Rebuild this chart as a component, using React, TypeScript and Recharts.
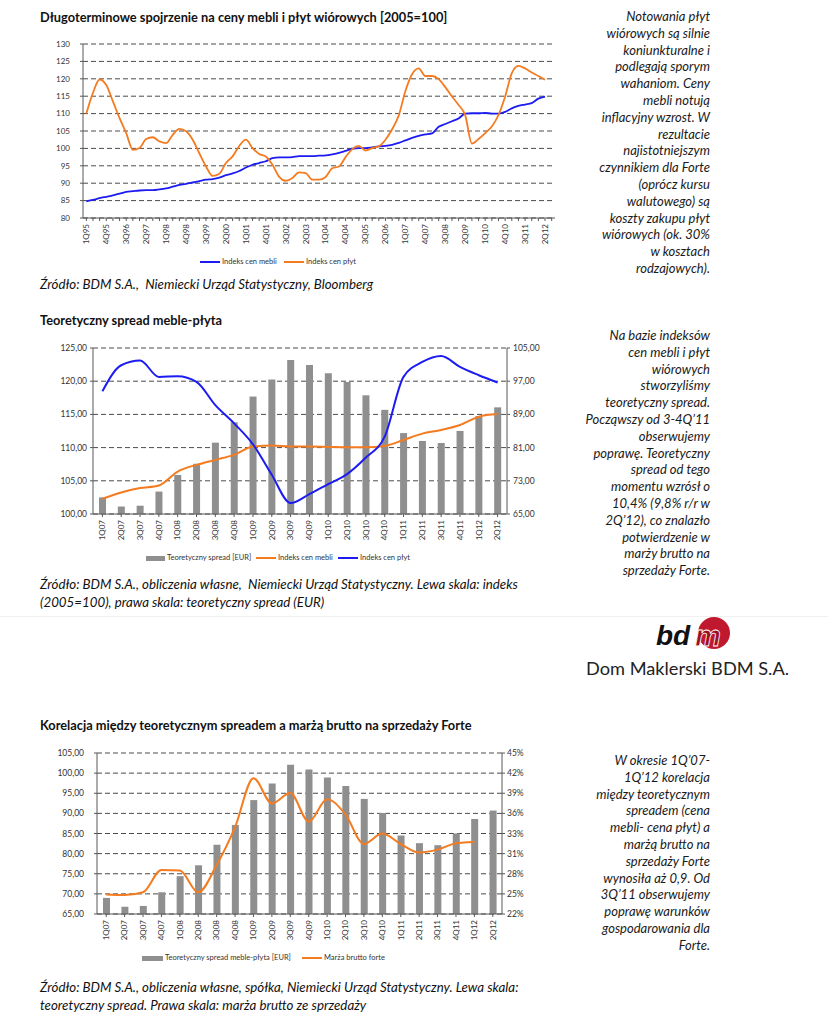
import React from "react";
import { ComposedChart, Line, Bar, XAxis, YAxis, CartesianGrid } from "recharts";

const FONT = "Lato, 'Open Sans', sans-serif";
const ORANGE = "#f47b20";
const BLUE = "#1c1cf2";
const BAR_GREY = "#8f8f8f";
const AXIS = "#595959";
const GRID = "#4a4a4a";
const TICK = "#333";

// --- chart 1: long-term indices (2005=100), quarterly 1Q95-2Q12 (3Q12 empty slot)
const LONG_QUARTERS = [
  "1Q95", "2Q95", "3Q95", "4Q95", "1Q96", "2Q96", "3Q96", "4Q96",
  "1Q97", "2Q97", "3Q97", "4Q97", "1Q98", "2Q98", "3Q98", "4Q98",
  "1Q99", "2Q99", "3Q99", "4Q99", "1Q00", "2Q00", "3Q00", "4Q00",
  "1Q01", "2Q01", "3Q01", "4Q01", "1Q02", "2Q02", "3Q02", "4Q02",
  "1Q03", "2Q03", "3Q03", "4Q03", "1Q04", "2Q04", "3Q04", "4Q04",
  "1Q05", "2Q05", "3Q05", "4Q05", "1Q06", "2Q06", "3Q06", "4Q06",
  "1Q07", "2Q07", "3Q07", "4Q07", "1Q08", "2Q08", "3Q08", "4Q08",
  "1Q09", "2Q09", "3Q09", "4Q09", "1Q10", "2Q10", "3Q10", "4Q10",
  "1Q11", "2Q11", "3Q11", "4Q11", "1Q12", "2Q12", "3Q12",
];

const MEBLE_LONG = [
  84.8, 85.2, 85.7, 86.1, 86.5, 87.0, 87.5, 87.7, 87.9, 88.0,
  88.0, 88.2, 88.5, 89.0, 89.5, 89.8, 90.2, 90.6, 91.0, 91.2,
  91.6, 92.3, 92.8, 93.5, 94.5, 95.3, 95.8, 96.3, 97.2, 97.4,
  97.4, 97.5, 97.8, 97.8, 97.8, 97.9, 98.0, 98.3, 98.7, 99.3,
  99.9, 100.1, 100.1, 100.3, 100.6, 100.7, 101.0, 101.6, 102.3, 103.0,
  103.6, 104.0, 104.3, 106.2, 107.0, 107.8, 108.6, 110.0, 110.1, 110.1,
  110.2, 110.0, 110.0, 110.5, 111.5, 112.2, 112.6, 113.0, 114.3, 114.9,
  null,
];

const PLYT_LONG = [
  110.0, 116.0, 119.8, 118.2, 113.5, 108.7, 104.4, 99.6, 100.1, 102.7,
  103.2, 102.0, 101.5, 103.9, 105.6, 104.9, 102.5, 98.6, 94.8, 92.1,
  92.7, 95.8, 97.7, 100.7, 102.5, 100.1, 98.4, 97.7, 95.3, 91.9,
  90.7, 91.5, 93.1, 92.9, 91.0, 91.0, 91.8, 94.3, 94.8, 97.5,
  99.8, 100.7, 99.4, 100.1, 100.6, 102.5, 105.5, 109.5, 116.5, 121.3,
  123.0, 120.8, 120.8, 119.9, 117.6, 114.9, 112.5, 109.5, 101.4, 102.7,
  104.4, 106.3, 109.6, 114.9, 121.6, 123.7, 123.0, 121.8, 120.8, 119.7,
  null,
];

const LONG_TICKS = [80, 85, 90, 95, 100, 105, 110, 115, 120, 125, 130];

// --- charts 2 & 3: 1Q07-2Q12
const SHORT_QUARTERS = [
  "1Q07", "2Q07", "3Q07", "4Q07", "1Q08", "2Q08", "3Q08", "4Q08",
  "1Q09", "2Q09", "3Q09", "4Q09", "1Q10", "2Q10", "3Q10", "4Q10",
  "1Q11", "2Q11", "3Q11", "4Q11", "1Q12", "2Q12",
];

const SPREAD = [
  69.0, 66.8, 67.0, 70.4, 74.4, 77.1, 82.2, 87.1, 93.3, 97.4, 102.1,
  100.9, 98.9, 96.8, 93.6, 90.1, 84.5, 82.6, 82.1, 85.0, 88.6, 90.7,
];

const MEBLE_INDEX = [
  102.3, 103.25, 103.9, 104.3, 106.4, 107.4, 108.15, 108.9, 110.15, 110.3, 110.15,
  110.15, 110.1, 110.05, 110.05, 110.25, 111.15, 112.1, 112.65, 113.4, 114.65, 115.05,
];

const PLYT_INDEX = [
  118.5, 122.4, 123.1, 120.65, 120.75, 119.9, 116.4, 113.65, 110.5, 105.9, 101.65,
  103.0, 104.5, 106.0, 108.5, 111.65, 120.65, 122.9, 123.8, 122.15, 120.9, 119.8,
];

const MARZA = [
  24.8, 24.7, 25.1, 28.3, 28.2, 25.1, 29.0, 34.4, 41.4, 37.8, 39.3,
  35.2, 38.4, 36.2, 32.0, 33.5, 32.0, 30.8, 31.2, 32.1, 32.3, null,
];

const INDEX_TICKS = [100, 105, 110, 115, 120, 125];
const SPREAD_TICKS_R = [65, 73, 81, 89, 97, 105];
const SPREAD_TICKS_L = [65, 70, 75, 80, 85, 90, 95, 100, 105];
const MARZA_TICK_LABELS = ["22%", "25%", "28%", "31%", "33%", "36%", "39%", "42%", "45%"];
const MARZA_DOMAIN: [number, number] = [22, 45];

const longData = LONG_QUARTERS.map((q, i) => ({ q, meble: MEBLE_LONG[i], plyt: PLYT_LONG[i] }));
const spreadData = SHORT_QUARTERS.map((q, i) => ({
  q,
  spread: SPREAD[i],
  meble: MEBLE_INDEX[i],
  plyt: PLYT_INDEX[i],
  marza: MARZA[i],
}));

const marzaTicks = MARZA_TICK_LABELS.map(
  (_, i) => MARZA_DOMAIN[0] + ((MARZA_DOMAIN[1] - MARZA_DOMAIN[0]) * i) / (MARZA_TICK_LABELS.length - 1)
);

const comma = (v: number) => v.toFixed(2).replace(".", ",");

const RotTick = (props: any) => {
  const { x, y, payload, every = 1, fontSize = 8 } = props;
  const idx = payload?.index ?? props.index ?? 0;
  if (idx % every !== 0 || payload.value === "3Q12") return null;
  return (
    <g transform={`translate(${x},${y})`}>
      <text
        transform="rotate(-90)"
        x={-1}
        y={fontSize * 0.35}
        textAnchor="end"
        fontSize={fontSize}
        fontFamily={FONT}
        fill={TICK}
      >
        {payload.value}
      </text>
    </g>
  );
};

const Abs = ({ x, y, children, style }: any) => (
  <div style={{ position: "absolute", left: x, top: y, whiteSpace: "nowrap", ...style }}>{children}</div>
);

const LegendLine = ({ x, y, w, color, label }: any) => (
  <Abs x={x} y={y - 6} style={{ fontSize: 7.5, color: TICK, lineHeight: "12px" }}>
    <span style={{ display: "inline-block", width: w, height: 2, background: color, verticalAlign: "middle", marginRight: 2 }} />
    {label}
  </Abs>
);

const LegendBox = ({ x, y, w, label }: any) => (
  <Abs x={x} y={y - 6} style={{ fontSize: 7.5, color: TICK, lineHeight: "12px" }}>
    <span style={{ display: "inline-block", width: w, height: 5, background: BAR_GREY, verticalAlign: "middle", marginRight: 2 }} />
    {label}
  </Abs>
);

const SideText = ({ top, lines }: { top: number; lines: string[] }) => (
  <div
    style={{
      position: "absolute",
      left: 560,
      width: 150,
      top,
      textAlign: "right",
      fontStyle: "italic",
      fontSize: 13,
      lineHeight: "16.8px",
      color: "#1a1a1a",
    }}
  >
    {lines.map((l, i) => (
      <div key={i} style={{ whiteSpace: "nowrap" }}>{l}</div>
    ))}
  </div>
);

const SIDE_1 = [
  "Notowania płyt", "wiórowych są silnie", "koniunkturalne i", "podlegają sporym",
  "wahaniom. Ceny", "mebli notują", "inflacyjny wzrost. W", "rezultacie",
  "najistotniejszym", "czynnikiem dla Forte", "(oprócz kursu", "walutowego) są",
  "koszty zakupu płyt", "wiórowych (ok. 30%", "w kosztach", "rodzajowych).",
];
const SIDE_2 = [
  "Na bazie indeksów", "cen mebli i płyt", "wiórowych", "stworzyliśmy",
  "teoretyczny spread.", "Począwszy od 3-4Q’11", "obserwujemy", "poprawę. Teoretyczny",
  "spread od tego", "momentu wzrósł o", "10,4% (9,8% r/r w", "2Q’12), co znalazło",
  "potwierdzenie w", "marży brutto na", "sprzedaży Forte.",
];
const SIDE_3 = [
  "W okresie 1Q’07-", "1Q’12 korelacja", "między teoretycznym", "spreadem (cena",
  "mebli- cena płyt) a", "marżą brutto na", "sprzedaży Forte", "wynosiła aż 0,9. Od",
  "3Q’11 obserwujemy", "poprawę warunków", "gospodarowania dla", "Forte.",
];

const titleStyle = { fontWeight: 700, fontSize: 12.8, color: "#111", lineHeight: "16px" };
const captionStyle = { fontStyle: "italic", fontSize: 13.3, color: "#111", lineHeight: "17.5px" };

export default function App() {
  return (
    <div
      style={{
        position: "absolute",
        left: 0,
        top: 0,
        width: 828,
        height: 1024,
        background: "#fff",
        fontFamily: FONT,
        overflow: "hidden",
      }}
    >
      {/* chart 1 */}
      <Abs x={40} y={9} style={titleStyle}>Długoterminowe spojrzenie na ceny mebli i płyt wiórowych [2005=100]</Abs>
      <div style={{ position: "absolute", left: 40, top: 38 }}>
        <ComposedChart width={525} height={220} data={longData} margin={{ top: 6, right: 10, bottom: 0, left: 0 }}>
          <CartesianGrid vertical={false} syncWithTicks stroke={GRID} strokeDasharray="5 3" />
          <XAxis
            dataKey="q"
            scale="band"
            interval={0}
            height={40}
            axisLine={{ stroke: AXIS }}
            tickLine={{ stroke: AXIS }}
            tickSize={3}
            tick={<RotTick every={3} fontSize={8} />}
          />
          <YAxis
            domain={[80, 130]}
            ticks={LONG_TICKS}
            interval={0}
            width={43}
            axisLine={{ stroke: AXIS }}
            tickLine={{ stroke: AXIS }}
            tickSize={3}
            tickMargin={10}
            tick={{ fontSize: 8, fill: TICK, fontFamily: FONT }}
          />
          <Line dataKey="meble" type="monotone" stroke={BLUE} strokeWidth={1.8} dot={false} isAnimationActive={false} />
          <Line dataKey="plyt" type="monotone" stroke={ORANGE} strokeWidth={1.8} dot={false} isAnimationActive={false} />
        </ComposedChart>
      </div>
      <LegendLine x={200} y={262} w={20} color={BLUE} label="Indeks cen mebli" />
      <LegendLine x={284} y={262} w={20} color={ORANGE} label="Indeks cen płyt" />
      <Abs x={40} y={276} style={captionStyle}>Źródło: BDM S.A.,&nbsp; Niemiecki Urząd Statystyczny, Bloomberg</Abs>
      <SideText top={8} lines={SIDE_1} />

      {/* chart 2 */}
      <Abs x={40} y={312} style={titleStyle}>Teoretyczny spread meble-płyta</Abs>
      <div style={{ position: "absolute", left: 40, top: 340 }}>
        <ComposedChart width={527} height={209} data={spreadData} margin={{ top: 8, right: 0, bottom: 0, left: 0 }}>
          <CartesianGrid vertical={false} syncWithTicks yAxisId="left" stroke={GRID} strokeDasharray="5 3" />
          <XAxis
            dataKey="q"
            interval={0}
            height={35}
            axisLine={{ stroke: AXIS }}
            tickLine={{ stroke: AXIS }}
            tickSize={3}
            tick={<RotTick every={1} fontSize={8} />}
          />
          <YAxis
            yAxisId="left"
            domain={[100, 125]}
            ticks={INDEX_TICKS}
            interval={0}
            tickFormatter={comma}
            width={53}
            axisLine={{ stroke: AXIS }}
            tickLine={{ stroke: AXIS }}
            tickSize={3}
            tickMargin={3}
            tick={{ fontSize: 8.5, fill: TICK, fontFamily: FONT }}
          />
          <YAxis
            yAxisId="right"
            orientation="right"
            domain={[65, 105]}
            ticks={SPREAD_TICKS_R}
            interval={0}
            tickFormatter={comma}
            width={60}
            axisLine={{ stroke: AXIS }}
            tickLine={{ stroke: AXIS }}
            tickSize={3}
            tickMargin={3}
            tick={{ fontSize: 8.5, fill: TICK, fontFamily: FONT, textAnchor: "start" }}
          />
          <Bar yAxisId="right" dataKey="spread" fill={BAR_GREY} barSize={7} isAnimationActive={false} />
          <Line yAxisId="left" dataKey="meble" type="monotone" stroke={ORANGE} strokeWidth={2} dot={false} isAnimationActive={false} />
          <Line yAxisId="left" dataKey="plyt" type="monotone" stroke={BLUE} strokeWidth={2} dot={false} isAnimationActive={false} />
        </ComposedChart>
      </div>
      <LegendBox x={146} y={558} w={19} label="Teoretyczny spread [EUR]" />
      <LegendLine x={256} y={558} w={20} color={ORANGE} label="Indeks cen mebli" />
      <LegendLine x={338} y={558} w={20} color={BLUE} label="Indeks cen płyt" />
      <Abs x={40} y={576} style={captionStyle}>
        Źródło: BDM S.A., obliczenia własne,&nbsp; Niemiecki Urząd Statystyczny. Lewa skala: indeks
        <br />
        (2005=100), prawa skala: teoretyczny spread (EUR)
      </Abs>
      <SideText top={327} lines={SIDE_2} />

      {/* page break + logo */}
      <div style={{ position: "absolute", left: 0, top: 616, width: 828, height: 1, background: "#f0f0f0" }} />
      <svg style={{ position: "absolute", left: 650, top: 612 }} width={90} height={40}>
        <defs>
          <clipPath id="logoClip">
            <rect x={0} y={5} width={90} height={40} />
          </clipPath>
        </defs>
        <circle cx={64} cy={21} r={16} fill="#c0192f" clipPath="url(#logoClip)" />
        <text x={6} y={33} fontFamily="'Liberation Sans', Arial, sans-serif" fontWeight="bold" fontStyle="italic" fontSize={28} fill="#111">
          bd
        </text>
        <text x={45} y={34} fontFamily="'Liberation Sans', Arial, sans-serif" fontWeight="bold" fontStyle="italic" fontSize={29} fill="#9a0f25" stroke="#fff" strokeWidth={0.8}>
          m
        </text>
      </svg>
      <Abs x={586} y={656} style={{ fontSize: 18.2, color: "#222", lineHeight: "24px" }}>Dom Maklerski BDM S.A.</Abs>

      {/* chart 3 */}
      <Abs x={40} y={717} style={titleStyle}>Korelacja między teoretycznym spreadem a marżą brutto na sprzedaży Forte</Abs>
      <div style={{ position: "absolute", left: 40, top: 745 }}>
        <ComposedChart width={512} height={204} data={spreadData} margin={{ top: 8, right: 0, bottom: 0, left: 0 }}>
          <CartesianGrid vertical={false} syncWithTicks yAxisId="left" stroke={GRID} strokeDasharray="5 3" />
          <XAxis
            dataKey="q"
            interval={0}
            height={35}
            axisLine={{ stroke: AXIS }}
            tickLine={{ stroke: AXIS }}
            tickSize={3}
            tick={<RotTick every={1} fontSize={8} />}
          />
          <YAxis
            yAxisId="left"
            domain={[65, 105]}
            ticks={SPREAD_TICKS_L}
            interval={0}
            tickFormatter={comma}
            width={57}
            axisLine={{ stroke: AXIS }}
            tickLine={{ stroke: AXIS }}
            tickSize={3}
            tickMargin={10}
            tick={{ fontSize: 8.5, fill: TICK, fontFamily: FONT }}
          />
          <YAxis
            yAxisId="right"
            orientation="right"
            domain={MARZA_DOMAIN}
            ticks={marzaTicks}
            interval={0}
            tickFormatter={(_v: number, i: number) => MARZA_TICK_LABELS[i]}
            width={50}
            axisLine={{ stroke: AXIS }}
            tickLine={{ stroke: AXIS }}
            tickSize={3}
            tickMargin={2}
            tick={{ fontSize: 8.5, fill: TICK, fontFamily: FONT, textAnchor: "start" }}
          />
          <Bar yAxisId="left" dataKey="spread" fill={BAR_GREY} barSize={7} isAnimationActive={false} />
          <Line yAxisId="right" dataKey="marza" type="monotone" stroke={ORANGE} strokeWidth={2} dot={false} isAnimationActive={false} />
        </ComposedChart>
      </div>
      <LegendBox x={142} y={958} w={21} label="Teoretyczny spread meble-płyta [EUR]" />
      <LegendLine x={302} y={958} w={20} color={ORANGE} label="Marża brutto forte" />
      <Abs x={40} y={979} style={captionStyle}>
        Źródło: BDM S.A., obliczenia własne, spółka, Niemiecki Urząd Statystyczny. Lewa skala:
        <br />
        teoretyczny spread. Prawa skala: marża brutto ze sprzedaży
      </Abs>
      <SideText top={752} lines={SIDE_3} />
    </div>
  );
}
